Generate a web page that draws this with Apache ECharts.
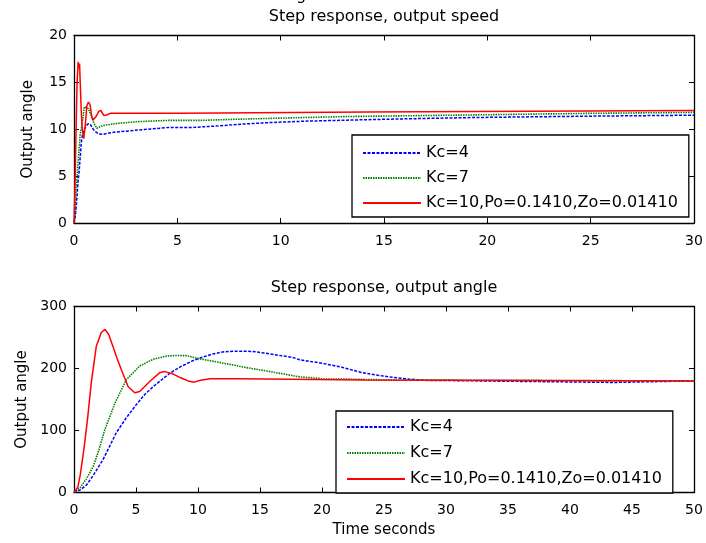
<!DOCTYPE html>
<html>
<head>
<meta charset="utf-8">
<script src="https://cdn.jsdelivr.net/npm/echarts@6/dist/echarts.min.js"></script>
<style>html,body{margin:0;padding:0;background:#fff;}#c{width:706px;height:543px;}</style>
</head>
<body>
<div id="c"></div>
<script>
// ---------- DATA ----------
const seriesNames = ['Kc=4', 'Kc=7', 'Kc=10,Po=0.1410,Zo=0.01410'];
const titleTop = 'Step response, output speed';
const titleBottom = 'Step response, output angle';
const yName = 'Output angle';
const xName = 'Time seconds';

const xTopMax = 30, yTopMax = 20, yTopInterval = 5;
const xBotMax = 50, yBotMax = 300, yBotInterval = 100, xInterval = 5;

// Top plot: output speed  [t, value]
const speedKc4 = [[0,0],[0.05,0.5],[0.1,1.5],[0.15,3],[0.2,4.5],[0.25,5.5],[0.3,7],[0.35,8.5],[0.4,9.3],[0.5,10],[0.6,10.4],[0.7,10.6],[0.8,10.5],[0.9,10.1],[1.0,9.8],[1.2,9.5],[1.4,9.45],[1.6,9.55],[2.0,9.7],[3.3,9.95],[4.6,10.2],[5.8,10.2],[5.8,10.36],[7.0,10.36],[7.0,10.54],[8.1,10.54],[8.1,10.72],[9.55,10.72],[9.55,10.86],[11.2,10.86],[11.2,10.97],[13.2,10.97],[13.2,11.1],[15.8,11.1],[15.8,11.25],[19.3,11.25],[19.3,11.4],[25.1,11.4],[25.1,11.5],[30,11.5]];
const speedKc7 = [[0,0],[0.05,1],[0.1,3.5],[0.15,5],[0.2,6.5],[0.25,8],[0.3,9.5],[0.35,10],[0.4,10.2],[0.45,11.5],[0.5,12.4],[0.6,12.3],[0.7,12.2],[0.8,11.6],[0.9,11],[1.0,10.5],[1.1,10.1],[1.4,10.4],[2.0,10.6],[3.0,10.8],[4.6,10.95],[6.2,10.95],[6.2,11.07],[7.9,11.07],[7.9,11.2],[10.2,11.2],[10.2,11.36],[13.3,11.36],[13.3,11.5],[18.3,11.5],[18.3,11.7],[25.1,11.7],[25.1,11.8],[30,11.8]];
const speedKc10 = [[0,0],[0.05,4],[0.1,10],[0.15,15],[0.2,17.2],[0.23,16.5],[0.27,17],[0.3,15],[0.35,12],[0.4,10],[0.47,9.0],[0.55,10.5],[0.62,12.5],[0.7,12.9],[0.78,12.6],[0.85,11.5],[0.92,11.0],[1.05,11.3],[1.2,11.9],[1.3,12.0],[1.45,11.45],[1.6,11.55],[1.75,11.7],[5.2,11.7],[5.2,11.85],[14.2,11.85],[14.2,12.0],[30,12.0]];

// Bottom plot: output angle  [t, value]
const angleKc4 = [[0,0],[0.5,4],[1,12],[1.5,26],[2,42],[2.34,53],[3.4,96],[4.2,120],[5,141],[5.7,158],[6.4,171],[7.7,192],[8.6,203],[9.6,212.7],[10.4,218.5],[11.2,223.5],[12,226.7],[13,228],[14.4,227.5],[15.5,224.5],[16.6,221],[17.7,217.5],[18.2,214],[20,208.5],[21.6,202],[23.3,193],[24.9,188],[26,185],[27.1,182.7],[28.6,180.5],[30.3,180.5],[30.4,177.5],[43.6,177.5],[43.6,180],[50,180]];
const angleKc7 = [[0,0],[0.5,8],[1,22],[1.55,42],[2,68],[2.48,101],[3.3,144],[4.2,181.5],[5.3,204],[6.4,215],[7.45,220],[8.2,221],[9.1,220.7],[9.9,216.5],[11.8,209.5],[13.9,201.5],[16.1,194],[18.2,186.5],[19.8,184],[20,183],[21.6,183],[21.6,181.5],[26,181.5],[26,180],[50,180]];
const angleKc10 = [[0,0],[0.3,8],[0.5,28],[0.8,70],[1.1,120],[1.4,178],[1.8,236],[2.2,258],[2.5,263],[2.8,255],[3.15,235],[3.5,215],[3.82,198],[4.36,171],[4.9,161],[5.3,163],[6.1,179],[6.9,193],[7.3,195],[8,191],[8.6,185],[9.2,180],[9.7,178],[10.2,181],[11,183.5],[13.3,183.5],[13.3,181.5],[23.5,181.5],[23.5,180],[50,180]];

// ---------- CHART ----------
const FONT = 'DejaVu Sans';
const colors = ['#0000ff', '#008000', '#ff0000'];
const dashes = [[3, 1.5], [1.5, 1], 'solid'];
const widths = [1.5, 1.6, 1.5];

function xAxes(grid, max, isBottom) {
  const base = {
    type: 'value', gridIndex: grid, min: 0, max: max, interval: xInterval,
    axisLine: { show: true, onZero: false, lineStyle: { color: '#000', width: 1.3 } },
    axisTick: { show: true, inside: true, length: 5, lineStyle: { color: '#000', width: 1 } },
    splitLine: { show: false }
  };
  const bottom = Object.assign({}, base, {
    position: 'bottom',
    axisLabel: { color: '#000', fontSize: 14, fontFamily: FONT, margin: 11 }
  });
  if (isBottom) {
    Object.assign(bottom, {
      name: xName, nameLocation: 'middle', nameGap: 30,
      nameTextStyle: { color: '#000', fontSize: 15, fontFamily: FONT }
    });
  }
  const top = Object.assign({}, base, { position: 'top', axisLabel: { show: false } });
  return [bottom, top];
}
function yAxes(grid, max, interval) {
  const base = {
    type: 'value', gridIndex: grid, min: 0, max: max, interval: interval,
    axisLine: { show: true, onZero: false, lineStyle: { color: '#000', width: 1.3 } },
    axisTick: { show: true, inside: true, length: 5, lineStyle: { color: '#000', width: 1 } },
    splitLine: { show: false }
  };
  const left = Object.assign({}, base, {
    position: 'left',
    axisLabel: { color: '#000', fontSize: 14, fontFamily: FONT, margin: 7 },
    name: yName, nameLocation: 'middle', nameGap: 38,
    nameTextStyle: { color: '#000', fontSize: 15, fontFamily: FONT }
  });
  const right = Object.assign({}, base, { position: 'right', axisLabel: { show: false } });
  return [left, right];
}

function mkSeries(i, data, xi, yi) {
  return {
    name: seriesNames[i], type: 'line', xAxisIndex: xi, yAxisIndex: yi,
    data: data, showSymbol: false, symbol: 'none', smooth: false,
    lineStyle: { color: colors[i], width: widths[i], type: dashes[i] },
    itemStyle: { color: colors[i] },
    z: 2 + i
  };
}

const legendCommon = {
  orient: 'vertical', data: seriesNames, itemWidth: 58, itemHeight: 14, itemGap: 7,
  backgroundColor: '#fff', borderColor: '#000', borderWidth: 1.3, borderRadius: 0,
  itemStyle: { opacity: 0, borderWidth: 0 },
  textStyle: { color: '#000', fontSize: 16, fontFamily: FONT, lineHeight: 18 },
  selectedMode: false
};

const option = {
  animation: false,
  backgroundColor: '#fff',
  title: [
    { text: titleTop, left: 384, top: 9, textAlign: 'center', padding: 0,
      textStyle: { color: '#000', fontSize: 16, fontWeight: 'normal', fontFamily: FONT } },
    { text: titleBottom, left: 384, top: 280, textAlign: 'center', padding: 0,
      textStyle: { color: '#000', fontSize: 16, fontWeight: 'normal', fontFamily: FONT } }
  ],
  grid: [
    { left: 74, top: 35.5, width: 620, height: 187.5, containLabel: false },
    { left: 74, top: 306.5, width: 620, height: 186, containLabel: false }
  ],
  xAxis: [].concat(xAxes(0, xTopMax, false), xAxes(1, xBotMax, true)),
  yAxis: [].concat(yAxes(0, yTopMax, yTopInterval), yAxes(1, yBotMax, yBotInterval)),
  legend: [
    Object.assign({}, legendCommon, { left: 352, top: 135, padding: [9, 11, 5, 10] }),
    Object.assign({}, legendCommon, { left: 336, top: 411, itemGap: 8, padding: [7, 11, 5, 10] })
  ],
  series: [
    mkSeries(0, speedKc4, 0, 0), mkSeries(1, speedKc7, 0, 0), mkSeries(2, speedKc10, 0, 0),
    mkSeries(0, angleKc4, 2, 2), mkSeries(1, angleKc7, 2, 2), mkSeries(2, angleKc10, 2, 2)
  ],
  graphic: [
    { type: 'text', left: 296, top: -12, style: { text: 'g', fill: '#000', font: '16px "DejaVu Sans"' } }
  ]
};

const chart = echarts.init(document.getElementById('c'), null, { renderer: 'canvas' });
chart.setOption(option);
</script>
</body>
</html>
